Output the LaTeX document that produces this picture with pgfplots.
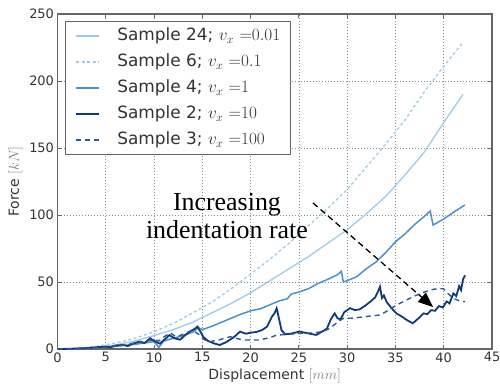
\documentclass[border=0pt]{standalone}
\usepackage{pgfplots}
\pgfplotsset{compat=1.18}
\usepackage{fontspec}
\setmainfont{DejaVu Sans}
\newfontfamily\annotfont{Liberation Serif}
\usetikzlibrary{arrows.meta}

\definecolor{sTwentyFour}{HTML}{9FCBE6}
\definecolor{sSix}{HTML}{9FCBE6}
\definecolor{sFour}{HTML}{4A91CD}
\definecolor{sTwo}{HTML}{0E3A7C}
\definecolor{sThree}{HTML}{2D5898}

% Force-displacement records, one per sample
\pgfplotstableread{
x y
0 0
2 0.3
4 1.2
6 3
8 6
10 10
12 14.5
14 20
16 27
18 34
20 42
22 51
24 60
26 69
28 79
30 89
32 101
34 114
36 130
38 147
40 169
42 190
}\sampleTwentyFour

\pgfplotstableread{
x y
0 0
2 0.5
4 2
6 4.5
8 8
10 13
12 19
14 27
16 35
18 45
20 56
22 67
24 79
26 92
28 105
30 119
32 136
34 153
36 171
38 192
40 211
42 229
}\sampleSix

\pgfplotstableread{
x y
0 0
2 0.2
4 0.8
6 2
8 3.5
9 4.5
10 5.5
10.5 1.2
11 6
12 8
13 10
14 12.5
14.6 16
15 14.5
16 17
17 20
18 23
19 26
20 28.5
21 30
22 33
23 36
23.8 37.5
24.2 41
25 42.5
26 45
27 49
28 52
29 55.5
29.4 58
29.6 50
30 51
31 54
32 60
33 65
34 72
35 80
36 86
37 93
38 99
38.6 103
38.9 92.5
40 97
41 102
42.2 107.5
}\sampleFour

\pgfplotstableread{
x y
0 0
1 0.1
2 0.4
3 0.7
4 1.3
5 1.8
5.5 1.2
6 2.6
6.8 3.0
7.3 2.2
7.8 4.0
8.5 5.5
9.0 4.4
9.6 8.0
10.1 5.6
10.6 4.0
11.1 7.2
11.6 10.4
12.1 8.0
12.7 7.0
13.2 10.2
13.7 13.0
14.2 15.0
14.5 16.7
14.8 13.0
15.1 9.0
15.6 6.0
16.2 4.2
16.8 3.0
17.5 5.2
18.3 9.0
18.9 13.0
19.5 11.4
20.0 12.2
20.6 12.7
21.2 14.2
21.7 16.7
22.2 24.0
22.5 27.0
22.7 30.4
22.9 24.0
23.2 14.0
23.6 11.0
24.2 11.5
25.1 13.0
26.0 11.6
26.8 10.5
27.4 13.0
27.9 15.2
28.3 22.0
28.7 26.6
29.0 23.0
29.3 22.0
29.7 27.5
30.3 30.5
30.8 29.0
31.3 29.6
31.8 32.0
32.4 35.3
32.9 38.5
33.2 43.0
33.4 46.5
33.6 38.0
33.8 40.0
34.1 35.0
34.6 30.4
35.1 26.6
35.6 24.5
36.2 21.5
36.8 19.2
37.4 23.0
37.9 26.6
38.3 26.0
38.7 29.0
39.1 28.5
39.5 32.0
39.9 31.0
40.3 35.5
40.6 34.0
41.0 41.5
41.3 39.5
41.6 47.0
41.8 44.0
42.0 52.0
42.2 55.0
}\sampleTwo

\pgfplotstableread{
x y
0 0
2 0.3
4 1
5 1.5
6 2.5
7 3
8 4.5
9 5.5
10 7
10.5 6
11 9
11.7 12
12.3 9
13 11
14 14
14.6 11
15.2 7
15.8 5.5
16.8 7
17.9 9.2
18.5 8
19.2 6.7
20.9 6.7
22 8.5
22.7 10.4
24 11
25.1 11.7
26.5 12
27.5 13
28.2 15.4
29 20
29.6 22.9
30.5 23
31.7 24
33.4 25.4
34.3 29
35.1 32.8
36 36
36.8 39
37.8 42
38.6 44
39.3 45
39.95 45
40.5 41
41 37.8
41.6 36
42.2 35.3
}\sampleThree

\begin{document}
\begin{tikzpicture}
\begin{axis}[
  name=ax,
  scale only axis,
  width=434.5bp, height=335bp,
  xmin=0, xmax=45, ymin=0, ymax=250,
  xtick={0,5,...,45}, ytick={0,50,...,250},
  grid=major,
  major grid style={draw=black!45, line width=0.7bp, dash pattern=on 1bp off 2bp},
  axis line style={draw=black!60, line width=1.3bp},
  tick style={draw=black!60, line width=0.8bp},
  major tick length=4bp, tick align=inside,
  /pgf/number format/assume math mode=true,
  ticklabel style={font=\fontsize{13}{13}\selectfont, text=black!80},
  xlabel={Displacement {\color{black!50}$[mm]$}},
  ylabel={Force {\color{black!50}$[kN]$}},
  label style={font=\fontsize{14}{14}\selectfont, text=black!80},
  legend style={at={(0,1)}, xshift=7.5bp, yshift=-7bp, anchor=north west,
    draw=black!60, line width=1bp, fill=white,
    font=\fontsize{17}{20}\selectfont, text=black!80,
    inner xsep=10bp, inner ysep=6.5bp, row sep=10bp, column sep=17bp,
    nodes={inner sep=0pt, text height=12.5bp, text depth=3.5bp}},
  legend cell align=left,
  legend image code/.code={\draw[#1] (0bp,0bp) -- (23bp,0bp);},
]
\addplot[sTwentyFour, line width=1.3bp] table[x=x,y=y] {\sampleTwentyFour};
\addlegendentry{Sample 24; $v_x\ {=}0.01$}
\addplot[sSix, line width=1.3bp, dash pattern=on 3bp off 2.5bp] table[x=x,y=y] {\sampleSix};
\addlegendentry{Sample 6; $v_x\ {=}0.1$}
\addplot[sFour, line width=1.5bp] table[x=x,y=y] {\sampleFour};
\addlegendentry{Sample 4; $v_x\ {=}1$}
\addplot[sTwo, line width=1.8bp] table[x=x,y=y] {\sampleTwo};
\addlegendentry{Sample 2; $v_x\ {=}10$}
\addplot[sThree, line width=1.4bp, dash pattern=on 5bp off 4bp] table[x=x,y=y] {\sampleThree};
\addlegendentry{Sample 3; $v_x\ {=}100$}

\draw[black, line width=1.3bp, dash pattern=on 6bp off 4bp,
      -{Triangle[length=15bp, width=12bp]}]
  (axis cs:26.46,109) -- (axis cs:38.9,31.3);
\node[anchor=base, font=\annotfont\fontsize{26}{28}\selectfont] at (axis cs:17.55,103.7) {Increasing};
\node[anchor=base, font=\annotfont\fontsize{26}{28}\selectfont] at (axis cs:17.55,82.8) {indentation rate};
\end{axis}
\pgfresetboundingbox
\path ([shift={(-57.5bp,-38bp)}]ax.south west) rectangle ([shift={(8bp,14bp)}]ax.north east);
\end{tikzpicture}
\end{document}
